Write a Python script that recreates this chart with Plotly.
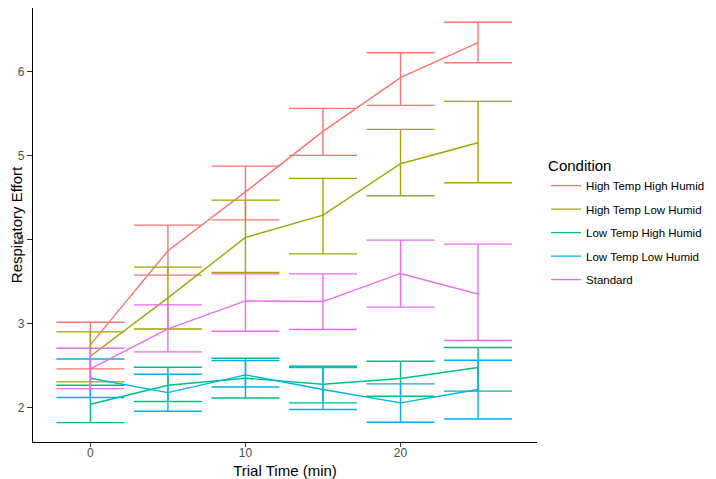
import plotly.graph_objects as go

times = [0, 5, 10, 15, 20, 25]
conditions = ["High Temp High Humid", "High Temp Low Humid", "Low Temp High Humid",
              "Low Temp Low Humid", "Standard"]
colors = ["#F8766D", "#A3A500", "#00BF7D", "#00B0F6", "#E76BF3"]

mean_hthh = [2.75, 3.87, 4.57, 5.29, 5.93, 6.345]
upper_hthh = [3.02, 4.175, 4.877, 5.564, 6.226, 6.588]
lower_hthh = [2.465, 3.58, 4.238, 5.005, 5.60, 6.107]

mean_htlh = [2.615, 3.31, 4.028, 4.294, 4.905, 5.155]
upper_htlh = [2.905, 3.675, 4.473, 4.731, 5.314, 5.647]
lower_htlh = [2.31, 2.94, 3.612, 3.833, 4.524, 4.679]

mean_lthh = [2.044, 2.27, 2.354, 2.282, 2.35, 2.481]
upper_lthh = [2.27, 2.485, 2.592, 2.496, 2.556, 2.719]
lower_lthh = [1.826, 2.077, 2.119, 2.06, 2.139, 2.20]

mean_ltlh = [2.354, 2.183, 2.393, 2.219, 2.06, 2.219]
upper_ltlh = [2.583, 2.401, 2.563, 2.481, 2.286, 2.568]
lower_ltlh = [2.124, 1.96, 2.25, 1.981, 1.83, 1.869]

mean_std = [2.465, 2.94, 3.274, 3.266, 3.60, 3.354]
upper_std = [2.71, 3.226, 3.595, 3.595, 3.996, 3.949]
lower_std = [2.23, 2.667, 2.913, 2.933, 3.20, 2.802]

means = [mean_hthh, mean_htlh, mean_lthh, mean_ltlh, mean_std]
uppers = [upper_hthh, upper_htlh, upper_lthh, upper_ltlh, upper_std]
lowers = [lower_hthh, lower_htlh, lower_lthh, lower_ltlh, lower_std]

FONT = "Liberation Sans, Arial, sans-serif"

fig = go.Figure()
for name, col, m, u, lo in zip(conditions, colors, means, uppers, lowers):
    fig.add_trace(go.Scatter(
        x=times, y=m, mode="lines", name=name, legendgroup=name,
        line=dict(color=col, width=1.4),
        error_y=dict(type="data", symmetric=False,
                     array=[a - b for a, b in zip(u, m)],
                     arrayminus=[b - c for b, c in zip(m, lo)],
                     color=col, thickness=1.4, width=34),
    ))

# page body has an 8px margin, so the figure is 8px smaller than the window
fig.update_layout(
    width=708, height=471,
    margin=dict(l=25, r=179, t=0, b=37, autoexpand=False),
    paper_bgcolor="white", plot_bgcolor="white",
    font=dict(family=FONT, color="black"),
    showlegend=True,
    legend=dict(
        title=dict(text="Condition", font=dict(size=15, color="black")),
        font=dict(size=11.5, color="black"),
        x=1.018, xanchor="left", y=0.669, yanchor="top",
        tracegroupgap=4.5, bgcolor="rgba(0,0,0,0)",
    ),
    xaxis=dict(
        range=[-3.7, 28.8], tickvals=[0, 10, 20], ticktext=["0", "10", "20"],
        showline=True, linecolor="black", linewidth=1.1,
        ticks="outside", ticklen=4, tickcolor="#333333", tickwidth=1.1,
        tickfont=dict(size=12, color="#4D4D4D"), ticklabelstandoff=-4,
        showgrid=False, zeroline=False, automargin=False,
        title=dict(text="Trial Time (min)", font=dict(size=15, color="black")),
    ),
    yaxis=dict(
        range=[1.595, 6.758], tickvals=[2, 3, 4, 5, 6], ticktext=["2", "3", "4", "5", "6"],
        showline=True, linecolor="black", linewidth=1.1,
        ticks="outside", ticklen=5, tickcolor="#333333", tickwidth=1.1,
        tickfont=dict(size=12, color="#4D4D4D"),
        showgrid=False, zeroline=False, automargin=True,
        title=dict(text="Respiratory Effort", font=dict(size=15, color="black"), standoff=9),
    ),
)

fig.write_html("out.html")
